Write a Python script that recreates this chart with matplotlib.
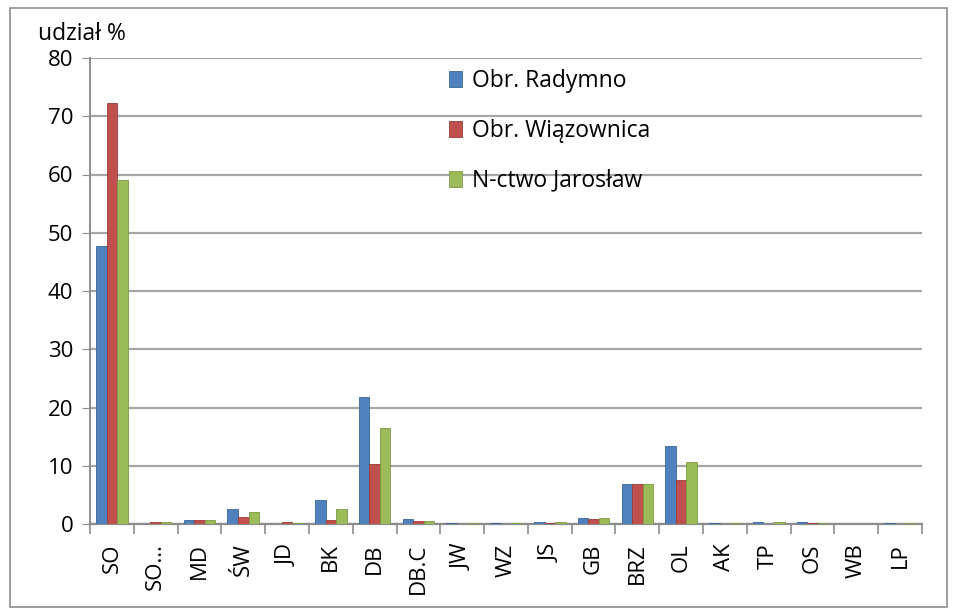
import matplotlib.pyplot as plt
import numpy as np
from matplotlib.patches import Rectangle

# ---- data ----
categories = ['SO', 'SO…', 'MD', 'ŚW', 'JD', 'BK', 'DB', 'DB.C', 'JW', 'WZ',
              'JS', 'GB', 'BRZ', 'OL', 'AK', 'TP', 'OS', 'WB', 'LP']
radymno    = [47.7, 0.0, 0.7, 2.6, 0.0, 4.2, 21.8, 0.9, 0.2, 0.2,
              0.4, 1.1, 6.9, 13.4, 0.2, 0.4, 0.3, 0.0, 0.2]
wiazownica = [72.2, 0.3, 0.7, 1.2, 0.3, 0.7, 10.3, 0.5, 0.0, 0.0,
              0.2, 0.8, 6.9, 7.5, 0.0, 0.0, 0.2, 0.0, 0.0]
jaroslaw   = [59.0, 0.3, 0.7, 2.0, 0.2, 2.5, 16.4, 0.6, 0.2, 0.2,
              0.3, 1.0, 6.9, 10.7, 0.2, 0.4, 0.2, 0.0, 0.2]
series_names = ['Obr. Radymno', 'Obr. Wiązownica', 'N-ctwo Jarosław']
y_ticks = [0, 10, 20, 30, 40, 50, 60, 70, 80]

COLORS = ['#4F81BD', '#C0504D', '#9BBB59']
EDGES = ['#3A6699', '#9E3B39', '#7C9A45']

plt.rcParams['font.family'] = ['Open Sans', 'DejaVu Sans']

fig = plt.figure(figsize=(9.55, 6.15), dpi=100)
ax = fig.add_axes([90 / 955, 91 / 615, 832 / 955, 466 / 615])

# outer chart border
fig.patches.append(Rectangle((10 / 955, 8 / 615), 937 / 955, 599 / 615,
                             transform=fig.transFigure, fill=False,
                             edgecolor='#8C8C8C', linewidth=1.2))

x = np.arange(len(categories))
w = 0.24
for i, (vals, name) in enumerate(zip([radymno, wiazownica, jaroslaw], series_names)):
    ax.bar(x + (i - 1) * w, vals, width=w, color=COLORS[i],
           edgecolor=EDGES[i], linewidth=0.6, label=name, zorder=3)

ax.set_xlim(-0.5, len(categories) - 0.5)
ax.set_ylim(0, 80)
ax.set_yticks(y_ticks)
ax.tick_params(axis='y', labelsize=16, length=6, color='#8C8C8C', pad=6)
ax.yaxis.grid(True, color='#A6A6A6', linewidth=1.6, zorder=0)

ax.set_xticks(x)
ax.set_xticklabels(categories, rotation=90, fontsize=16)
ax.tick_params(axis='x', which='major', length=0, pad=14)
ax.set_xticks(np.arange(-0.5, len(categories)), minor=True)
ax.tick_params(axis='x', which='minor', length=7, color='#8C8C8C', width=1.2)

for s in ['top', 'right']:
    ax.spines[s].set_visible(False)
ax.spines['left'].set_color('#8C8C8C')
ax.spines['left'].set_linewidth(1.4)
ax.spines['bottom'].set_color('#8C8C8C')
ax.spines['bottom'].set_linewidth(1.6)

fig.text(38 / 955, 1 - 34 / 615, 'udział %', fontsize=16.5, ha='left', va='center')

ax.legend(loc='upper left', bbox_to_anchor=(0.42, 0.995), frameon=False,
          fontsize=16.5, handlelength=0.6, handleheight=0.7, handletextpad=0.4,
          labelspacing=1.12, borderaxespad=0.0)

fig.savefig('out.png', dpi=100)
